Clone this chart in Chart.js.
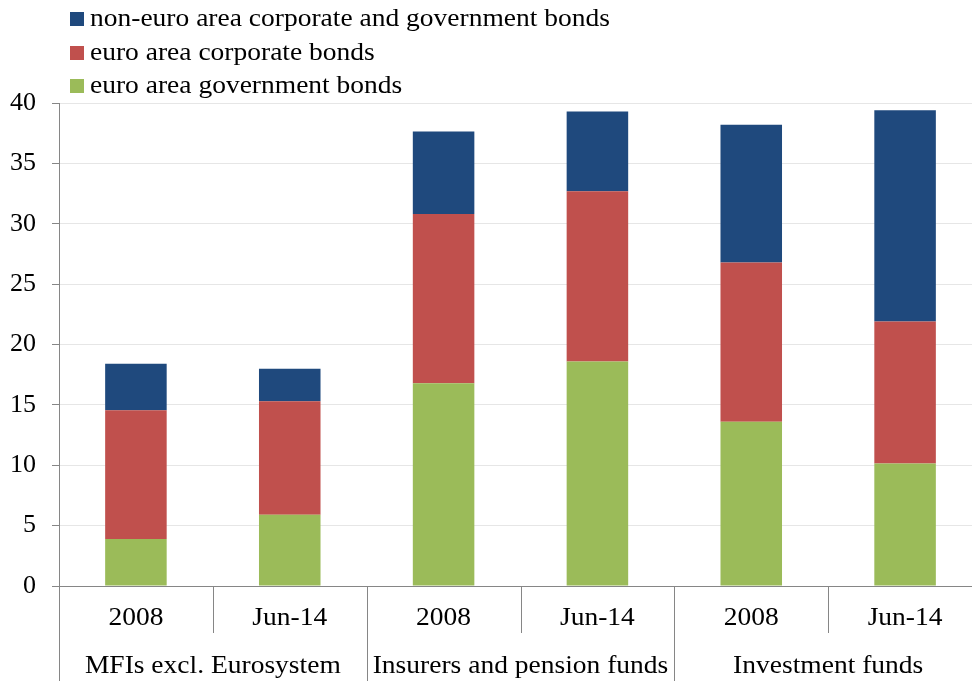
<!DOCTYPE html>
<html>
<head>
<meta charset="utf-8">
<script src="https://cdn.jsdelivr.net/npm/chart.js@4.4.0/dist/chart.umd.min.js"></script>
<style>
    body { margin: 0; overflow: hidden; background: #fff; font-family: "Liberation Serif", "Times New Roman", serif; }
    #caixa { position: relative; width: 982px; height: 681px; }
    #legenda { position: absolute; left: 70px; top: 1px; font-size: 25px; color: #000; }
    .item { height: 33.5px; line-height: 33.5px; white-space: nowrap; }
    .quadrado { display: inline-block; width: 14px; height: 14px; margin-right: 6px; vertical-align: 0px; }
    .texto { display: inline-block; transform: scaleX(1.1); transform-origin: left center; }
</style>
</head>
<body>
<div id="caixa">
    <canvas id="grafico"></canvas>
    <div id="legenda"></div>
</div>
<script>
// --- Dados do gráfico ---
const subCategorias = ['2008', 'Jun-14', '2008', 'Jun-14', '2008', 'Jun-14'];
const grupos = ['MFIs excl. Eurosystem', 'Insurers and pension funds', 'Investment funds'];

const tituloGoverno = 'euro area government bonds';
const tituloCorporativo = 'euro area corporate bonds';
const tituloForaEuro = 'non-euro area corporate and government bonds';

const titulosGoverno = [3.9, 5.9, 16.8, 18.6, 13.6, 10.15];
const titulosCorporativos = [10.65, 9.4, 14.0, 14.1, 13.2, 11.75];
const titulosForaEuro = [3.85, 2.7, 6.85, 6.6, 11.4, 17.5];

const ticksY = [0, 5, 10, 15, 20, 25, 30, 35, 40];

// Cores e fonte
const AZUL = '#1F497D';
const VERMELHO = '#C0504D';
const VERDE = '#9BBB59';
const CINZA_EIXO = '#868686';
const FONTE = '"Liberation Serif", "Times New Roman", serif';
const ESTICAR = 1.1; // o texto do original é um pouco mais largo

// Escreve um texto centrado, levemente esticado na horizontal
function textoEsticado(ctx, texto, x, y) {
    ctx.save();
    ctx.translate(x, y);
    ctx.scale(ESTICAR, 1);
    ctx.fillText(texto, 0, 0);
    ctx.restore();
}

// Desenha os rótulos de dois níveis no eixo X e as linhas separadoras
const eixoDuplo = {
    id: 'eixoDuplo',
    afterDraw(chart) {
        const { ctx, chartArea, scales: { x } } = chart;
        const meiaBanda = (x.getPixelForValue(1) - x.getPixelForValue(0)) / 2;
        const base = chartArea.bottom;

        ctx.save();
        ctx.strokeStyle = CINZA_EIXO;
        ctx.lineWidth = 1;
        for (let i = 0; i <= subCategorias.length; i++) {
            const pos = Math.round(i < subCategorias.length
                ? x.getPixelForValue(i) - meiaBanda
                : x.getPixelForValue(i - 1) + meiaBanda) + 0.5;
            const fim = i % 2 === 0 ? chart.height : base + 47;
            ctx.beginPath();
            ctx.moveTo(pos, base);
            ctx.lineTo(pos, fim);
            ctx.stroke();
        }

        ctx.fillStyle = '#000';
        ctx.font = '25px ' + FONTE;
        ctx.textAlign = 'center';
        ctx.textBaseline = 'middle';
        subCategorias.forEach((rotulo, i) => {
            textoEsticado(ctx, rotulo, x.getPixelForValue(i), base + 32);
        });
        grupos.forEach((nome, g) => {
            const centro = (x.getPixelForValue(g * 2) + x.getPixelForValue(g * 2 + 1)) / 2;
            textoEsticado(ctx, nome, centro, base + 80);
        });
        ctx.restore();
    }
};

const datasets = [
    { label: tituloGoverno, data: titulosGoverno, backgroundColor: VERDE },
    { label: tituloCorporativo, data: titulosCorporativos, backgroundColor: VERMELHO },
    { label: tituloForaEuro, data: titulosForaEuro, backgroundColor: AZUL }
];

const ctx = document.getElementById('grafico').getContext('2d');
const grafico = new Chart(ctx, {
    type: 'bar',
    data: { labels: subCategorias, datasets: datasets },
    options: {
        responsive: true,
        maintainAspectRatio: false,
        animation: false,
        datasets: { bar: { barPercentage: 1, categoryPercentage: 0.4, borderWidth: 0 } },
        layout: { padding: { top: 103, right: 0, left: 0, bottom: 0 } },
        plugins: { legend: { display: false }, tooltip: { enabled: false } },
        scales: {
            x: {
                stacked: true,
                grid: { display: false },
                ticks: { display: false },
                border: { color: CINZA_EIXO },
                afterFit: (escala) => { escala.height = 95; }
            },
            y: {
                stacked: true,
                min: 0,
                max: 40,
                afterBuildTicks: (escala) => { escala.ticks = ticksY.map(v => ({ value: v })); },
                ticks: { color: '#000', font: { family: FONTE, size: 26 }, padding: 16 },
                grid: { color: '#e6e6e6', tickColor: CINZA_EIXO, tickLength: 7 },
                border: { color: CINZA_EIXO },
                afterFit: (escala) => { escala.width = 59; }
            }
        }
    },
    plugins: [eixoDuplo]
});

// Legenda em HTML, na ordem inversa das séries (como no original)
const legenda = document.getElementById('legenda');
datasets.slice().reverse().forEach(ds => {
    const item = document.createElement('div');
    item.className = 'item';
    const quadrado = document.createElement('span');
    quadrado.className = 'quadrado';
    quadrado.style.background = ds.backgroundColor;
    const texto = document.createElement('span');
    texto.className = 'texto';
    texto.innerText = ds.label;
    item.appendChild(quadrado);
    item.appendChild(texto);
    legenda.appendChild(item);
});
</script>
</body>
</html>
